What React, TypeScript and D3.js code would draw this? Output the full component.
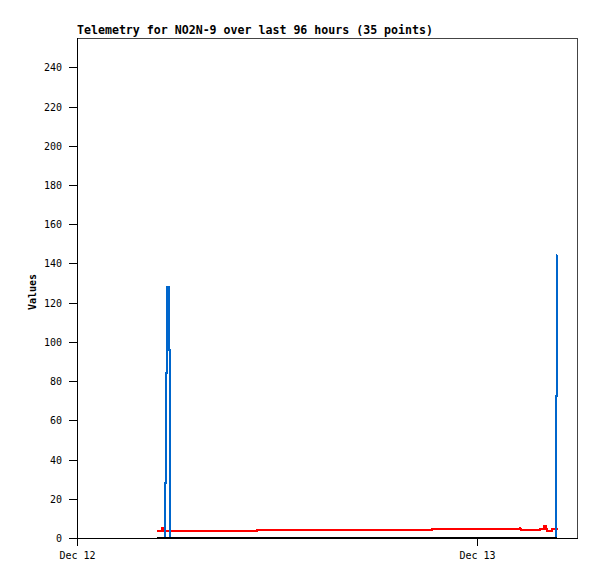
import React, { useEffect, useRef } from "react";
import * as d3 from "d3";

const title = "Telemetry for NO2N-9 over last 96 hours (35 points)";
const yLabel = "Values";

// x domain of the plot
const xStart = "2023-12-12T00:00:00";
const xEnd = "2023-12-13T06:04:00";
const xTickTimes = ["2023-12-12T00:00:00", "2023-12-13T00:00:00"];
const xTickLabels = ["Dec 12", "Dec 13"];
const yTicks = [0, 20, 40, 60, 80, 100, 120, 140, 160, 180, 200, 220, 240];
const yMax = 255;

// red series
const redTimes = [
  "2023-12-12T04:48:00", "2023-12-12T05:04:55", "2023-12-12T05:09:36",
  "2023-12-12T10:49:48", "2023-12-12T21:19:48",
  "2023-12-13T02:34:48", "2023-12-13T02:36:36", "2023-12-13T02:38:24",
  "2023-12-13T03:46:48", "2023-12-13T04:02:00", "2023-12-13T04:08:00", "2023-12-13T04:14:00",
  "2023-12-13T04:30:00", "2023-12-13T04:51:36",
];
const redValues = [3.7, 4.9, 3.8, 4.2, 4.7, 4.9, 4.4, 4.0, 4.6, 6.0, 4.6, 3.8, 4.8, 4.8];

// blue series
const blueTimes = [
  "2023-12-12T05:00:00", "2023-12-12T05:15:22", "2023-12-12T05:19:41", "2023-12-12T05:22:34",
  "2023-12-12T05:25:48", "2023-12-12T05:30:07", "2023-12-12T05:33:43", "2023-12-12T05:35:53",
  "2023-12-13T04:46:12", "2023-12-13T04:48:36", "2023-12-13T04:49:48",
];
const blueValues = [0, 28, 84, 120, 128, 96, 32, 0, 72.5, 144.5, 144.5];

// black series
const blackTimes = ["2023-12-12T04:48:00", "2023-12-13T04:49:48"];
const blackValues = [0, 0];

const parse = d3.timeParse("%Y-%m-%dT%H:%M:%S");

export default function App() {
  const ref = useRef<SVGSVGElement | null>(null);

  useEffect(() => {
    document.body.style.margin = "0";
    if (!ref.current) return;
    const svg = d3.select(ref.current);
    svg.selectAll("*").remove();

    const left = 77, right = 578, top = 38, bottom = 538;
    const mono = "'DejaVu Sans Mono', monospace";

    const x = d3.scaleTime().domain([parse(xStart)!, parse(xEnd)!]).range([left, right]);
    const y = d3.scaleLinear().domain([0, yMax]).range([bottom, top]);

    // frame
    svg.append("rect")
      .attr("x", left).attr("y", top + 0.5)
      .attr("width", right - left - 0.5).attr("height", bottom - top)
      .attr("fill", "none").attr("stroke", "#444").attr("shape-rendering", "crispEdges");

    svg.append("text")
      .attr("x", left).attr("y", 34)
      .attr("font-family", mono).attr("font-weight", "bold").attr("font-size", 11.6)
      .text(title);

    // y ticks
    yTicks.forEach((t) => {
      const yy = Math.round(y(t)) + 0.5;
      svg.append("line")
        .attr("x1", left - 8).attr("x2", left).attr("y1", yy).attr("y2", yy)
        .attr("stroke", "#000").attr("shape-rendering", "crispEdges");
      svg.append("text")
        .attr("x", left - 15).attr("y", yy).attr("dy", "0.35em")
        .attr("text-anchor", "end")
        .attr("font-family", mono).attr("font-size", 10)
        .text(String(t));
    });

    // x ticks
    xTickTimes.forEach((t, i) => {
      const xx = Math.round(x(parse(t)!)) + 0.5;
      svg.append("line")
        .attr("x1", xx).attr("x2", xx).attr("y1", bottom).attr("y2", bottom + 8)
        .attr("stroke", "#000").attr("shape-rendering", "crispEdges");
      svg.append("text")
        .attr("x", xx).attr("y", 559)
        .attr("text-anchor", "middle")
        .attr("font-family", mono).attr("font-size", 10)
        .text(xTickLabels[i]);
    });

    svg.append("text")
      .attr("transform", `translate(36, 292) rotate(-90)`)
      .attr("text-anchor", "middle")
      .attr("font-family", mono).attr("font-weight", "bold").attr("font-size", 10)
      .text(yLabel);

    const stepLine = d3.line<[Date, number]>()
      .curve(d3.curveStepAfter)
      .x((d) => x(d[0]))
      .y((d) => y(d[1]));
    const straight = d3.line<[Date, number]>()
      .x((d) => x(d[0]))
      .y((d) => y(d[1]));

    const series = [
      { times: redTimes, values: redValues, color: "#ff0000", gen: stepLine },
      { times: blueTimes, values: blueValues, color: "#0066cc", gen: stepLine },
      { times: blackTimes, values: blackValues, color: "#000000", gen: straight },
    ];
    series.forEach((s) => {
      const pts = s.times.map((t, i) => [parse(t)!, s.values[i]] as [Date, number]);
      svg.append("path")
        .attr("d", s.gen(pts))
        .attr("fill", "none")
        .attr("stroke", s.color)
        .attr("stroke-width", 2)
        .attr("shape-rendering", "crispEdges");
    });

    // axes
    svg.append("line")
      .attr("x1", left + 0.5).attr("x2", left + 0.5).attr("y1", top).attr("y2", bottom + 8)
      .attr("stroke", "#000").attr("shape-rendering", "crispEdges");
    svg.append("line")
      .attr("x1", left - 8).attr("x2", right).attr("y1", bottom + 0.5).attr("y2", bottom + 0.5)
      .attr("stroke", "#000").attr("shape-rendering", "crispEdges");
  }, []);

  return <svg ref={ref} width={597} height={579} style={{ display: "block", background: "#fff" }} />;
}
